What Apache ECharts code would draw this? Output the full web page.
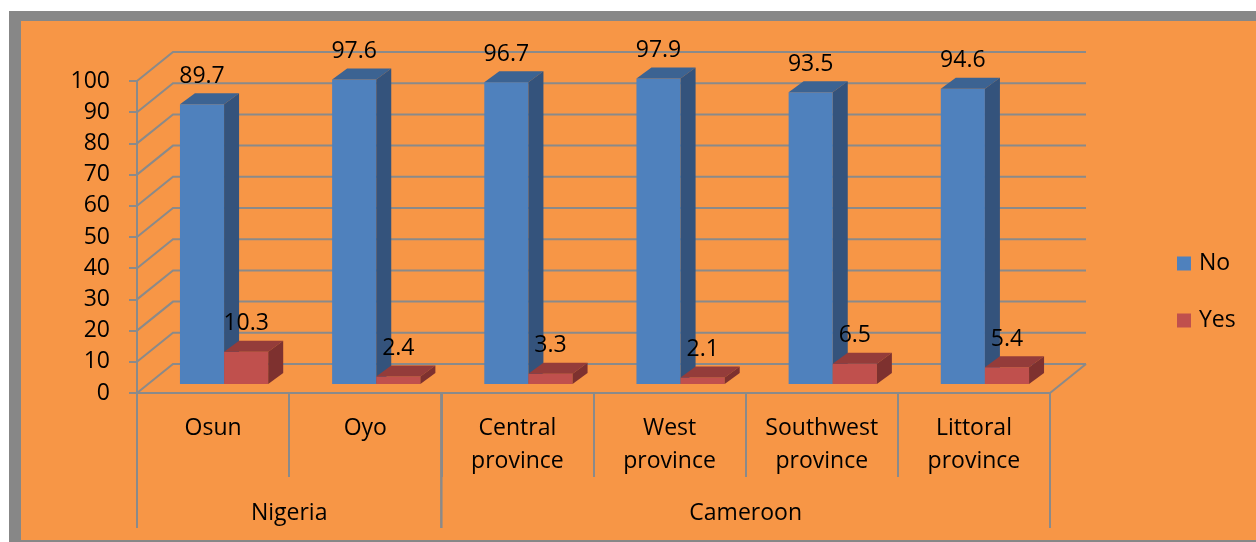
<!DOCTYPE html>
<html>
<head>
<meta charset="utf-8">
<script src="https://cdn.jsdelivr.net/npm/echarts@6/dist/echarts.min.js"></script>
<style>
  html, body { margin: 0; padding: 0; background: #ffffff; }
  #chart { width: 1256px; height: 542px; }
</style>
</head>
<body>
<div id="chart"></div>
<script>
// Survey answers per province (percent)
const categories = ['Osun', 'Oyo', 'Central province', 'West province', 'Southwest province', 'Littoral province'];
const noValues = [89.7, 97.6, 96.7, 97.9, 93.5, 94.6];
const yesValues = [10.3, 2.4, 3.3, 2.1, 6.5, 5.4];
const groupNames = ['Nigeria', 'Cameroon'];
const groupSpans = [2, 4];
const yTicks = [0, 10, 20, 30, 40, 50, 60, 70, 80, 90, 100];

const FONT = '"Open Sans"';
const FONT_SIZE = 23;
const GRID_COLOR = '#8a8a8a';
// depth of the back wall, and placement/depth of the bar blocks inside it
const WALL = [36, -29];
const BAR_OFF = [11, -9];
const BAR_DEPTH = [15, -11];
const BAR_RATIO = 0.29;

const chart = echarts.init(document.getElementById('chart'), null, { renderer: 'canvas' });

function gridRenderer(params, api) {
  const cs = params.coordSys;
  const y = api.coord([0, api.value(1)])[1];
  const x0 = cs.x, x1 = cs.x + cs.width;
  const children = [{
    type: 'polyline',
    shape: { points: [[x0, y], [x0 + WALL[0], y + WALL[1]], [x1 + WALL[0], y + WALL[1]]] },
    style: { stroke: GRID_COLOR, lineWidth: 2, fill: null }
  }];
  if (api.value(1) === 0) {
    children.push({
      type: 'line',
      shape: { x1: x1, y1: y, x2: x1 + WALL[0], y2: y + WALL[1] },
      style: { stroke: GRID_COLOR, lineWidth: 2 }
    });
  }
  return { type: 'group', children: children };
}

function barRenderer(side, colors) {
  return function (params, api) {
    const i = api.value(0), v = api.value(1);
    const base = api.coord([i, 0]);
    const top = api.coord([i, v]);
    const band = api.size([1, 0])[0];
    const w = band * BAR_RATIO;
    const x1 = base[0] + BAR_OFF[0] + (side === 0 ? -w : 0);
    const x2 = x1 + w;
    const yb = base[1] + BAR_OFF[1];
    const yt = top[1] + BAR_OFF[1];
    const dx = BAR_DEPTH[0], dy = BAR_DEPTH[1];
    return {
      type: 'group',
      children: [
        { type: 'polygon', shape: { points: [[x1, yt], [x2, yt], [x2, yb], [x1, yb]] }, style: { fill: colors[0] } },
        { type: 'polygon', shape: { points: [[x1, yt], [x1 + dx, yt + dy], [x2 + dx, yt + dy], [x2, yt]] }, style: { fill: colors[1] } },
        { type: 'polygon', shape: { points: [[x2, yt], [x2 + dx, yt + dy], [x2 + dx, yb + dy], [x2, yb]] }, style: { fill: colors[2] } },
        { type: 'text', z2: 100, style: { x: (x1 + x2) / 2, y: yt - 28, text: String(v), align: 'center', verticalAlign: 'middle', fontFamily: FONT, fontSize: FONT_SIZE, fill: '#000' } }
      ]
    };
  };
}

function groupRenderer(params, api) {
  const start = api.value(0), end = api.value(1);
  const band = api.size([1, 0])[0];
  const a = api.coord([start, 0]);
  const b = api.coord([end, 0]);
  const xl = a[0] - band / 2, xr = b[0] + band / 2;
  const y0 = a[1];
  return {
    type: 'group',
    children: [
      { type: 'line', shape: { x1: xl, y1: y0, x2: xl, y2: y0 + 135 }, style: { stroke: GRID_COLOR, lineWidth: 2 } },
      { type: 'line', shape: { x1: xr, y1: y0, x2: xr, y2: y0 + 135 }, style: { stroke: GRID_COLOR, lineWidth: 2 } },
      { type: 'text', style: { x: (xl + xr) / 2, y: y0 + 120, text: groupNames[params.dataIndex], align: 'center', verticalAlign: 'middle', fontFamily: FONT, fontSize: FONT_SIZE, fill: '#000' } }
    ]
  };
}

const groupData = [];
let startIdx = 0;
groupSpans.forEach(function (n) { groupData.push([startIdx, startIdx + n - 1]); startIdx += n; });

chart.setOption({
  animation: false,
  backgroundColor: '#ffffff',
  graphic: [
    { type: 'rect', z: -10, shape: { x: 9, y: 11, width: 1247, height: 531 }, style: { fill: '#878787' } },
    { type: 'rect', z: -9, shape: { x: 21, y: 21, width: 1235, height: 519 }, style: { fill: '#F79646' } }
  ],
  legend: {
    data: ['No', 'Yes'],
    orient: 'vertical',
    left: 1172,
    top: 247,
    icon: 'rect',
    itemWidth: 14,
    itemHeight: 14,
    itemGap: 34,
    textStyle: { fontFamily: FONT, fontSize: FONT_SIZE, color: '#000', padding: [0, 0, 0, 3] }
  },
  grid: { left: 137, right: 206, top: 81, bottom: 149, containLabel: false },
  xAxis: {
    type: 'category',
    data: categories,
    axisLine: { show: true, lineStyle: { color: GRID_COLOR, width: 2 } },
    axisTick: { show: true, interval: 0, length: 84, alignWithLabel: false, lineStyle: { color: GRID_COLOR, width: 2 } },
    axisLabel: {
      interval: 0,
      margin: 19,
      fontFamily: FONT,
      fontSize: FONT_SIZE,
      lineHeight: 33,
      color: '#000',
      formatter: function (s) { return s.replace(' ', '\n'); }
    },
    splitLine: { show: false }
  },
  yAxis: {
    type: 'value',
    min: 0,
    max: 100,
    interval: 10,
    axisLine: { show: true, lineStyle: { color: GRID_COLOR, width: 2 } },
    axisTick: { show: true, length: 8, lineStyle: { color: GRID_COLOR, width: 2 } },
    axisLabel: { margin: 27, fontFamily: FONT, fontSize: FONT_SIZE, color: '#000', formatter: function (v) { return yTicks.indexOf(v) >= 0 ? String(v) : ''; } },
    splitLine: { show: false }
  },
  series: [
    {
      type: 'custom',
      name: 'wall',
      silent: true,
      z: 1,
      renderItem: gridRenderer,
      data: yTicks.map(function (v) { return [0, v]; })
    },
    {
      type: 'custom',
      name: 'No',
      z: 3,
      itemStyle: { color: '#4F81BD' },
      renderItem: barRenderer(0, ['#4F81BD', '#3C6392', '#34537C']),
      data: noValues.map(function (v, i) { return [i, v]; })
    },
    {
      type: 'custom',
      name: 'Yes',
      z: 4,
      itemStyle: { color: '#C0504D' },
      renderItem: barRenderer(1, ['#C0504D', '#943C3A', '#7E312F']),
      data: yesValues.map(function (v, i) { return [i, v]; })
    },
    {
      type: 'custom',
      name: 'groups',
      silent: true,
      z: 2,
      renderItem: groupRenderer,
      data: groupData
    }
  ]
});
</script>
</body>
</html>
